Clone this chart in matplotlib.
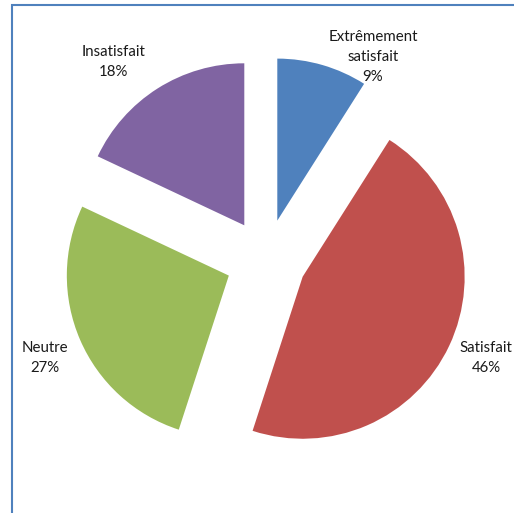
import matplotlib.pyplot as plt
from matplotlib.patches import Rectangle

categories = ["Extrêmement\nsatisfait", "Satisfait", "Neutre", "Insatisfait"]
shares = [9, 46, 27, 18]
colors = ["#4F81BD", "#C0504D", "#9BBB59", "#8064A2"]

# label anchor points, in pie radius units from the pie centre
label_pos = [(0.66, 1.25), (1.36, -0.608), (-1.364, -0.608), (-0.944, 1.219)]

plt.rcParams["font.family"] = ["Lato", "DejaVu Sans"]

fig = plt.figure(figsize=(5.14, 5.13), dpi=100)
ax = fig.add_axes([0, 0, 1, 1])

ax.pie(
    shares,
    colors=colors,
    startangle=90,
    counterclock=False,
    explode=[0.25] * len(shares),
    wedgeprops={"linewidth": 0},
)

for name, value, (x, y) in zip(categories, shares, label_pos):
    ax.text(x, y, f"{name}\n{value}%", ha="center", va="center",
            fontsize=10.8, color="#1a1a1a", linespacing=1.55)

# 162 px per radius, pie centre at (266, 259.5) px from top-left
scale = 162
ax.set_aspect("auto")
ax.set_xlim(-266 / scale, (514 - 266) / scale)
ax.set_ylim(-253.5 / scale, (513 - 253.5) / scale)
ax.axis("off")

# chart frame (left and top edges visible)
fig.patches.append(Rectangle((12 / 514, -0.05), 1.2, 1 - 5 / 513 + 0.05,
                             transform=fig.transFigure, fill=False,
                             edgecolor="#4F81BD", linewidth=1.5))

fig.savefig("out.png", dpi=100)
